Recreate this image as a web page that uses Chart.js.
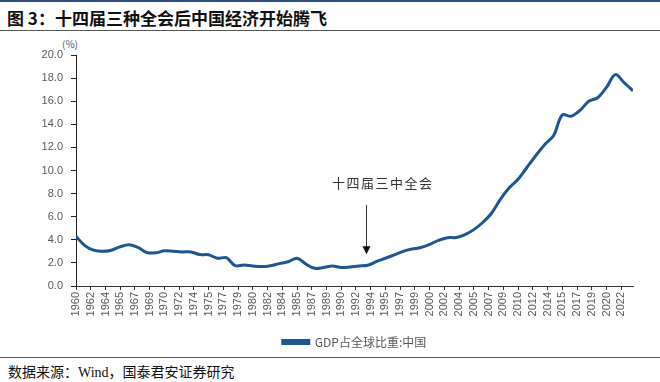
<!DOCTYPE html>
<html>
<head>
<meta charset="utf-8">
<script src="https://cdn.jsdelivr.net/npm/chart.js@4"></script>
<style>
    html, body { margin: 0; padding: 0; background: #fff; }
    body { width: 660px; height: 382px; position: relative; overflow: hidden; font-family: "Noto Sans CJK SC", "Liberation Sans", sans-serif; }
    .top-rule { position: absolute; left: 0; top: 0; width: 660px; height: 2px; background: #2f4f7f; }
    .title { position: absolute; left: 7px; top: 5px; font-size: 17px; font-weight: bold; color: #111; }
    .title-rule { position: absolute; left: 0; top: 30px; width: 660px; height: 1px; background: #555; }
    .unit { position: absolute; left: 62px; top: 36px; font-size: 10px; color: #595959; }
    .chart-box { position: absolute; left: 0; top: 36px; width: 660px; height: 322px; }
    .source-rule { position: absolute; left: 0; top: 357px; width: 660px; height: 1px; background: #555; }
    .source { position: absolute; left: 8px; top: 361px; font-size: 14px; color: #111; }
    .source .latin { font-family: "Liberation Serif", serif; }
</style>
</head>
<body>
<div class="top-rule"></div>
<div class="title">图 3：十四届三种全会后中国经济开始腾飞</div>
<div class="title-rule"></div>
<div class="unit">(%)</div>
<div class="chart-box"><canvas id="gdp-share-chart" width="660" height="322"></canvas></div>
<div class="source-rule"></div>
<div class="source">数据来源：<span class="latin">Wind</span>，国泰君安证券研究</div>

<script>
/* ============================================================
   China share of world GDP, 1960-2023
   ============================================================ */

const years = [
    1960, 1961, 1962, 1963, 1964, 1965, 1966, 1967, 1968, 1969,
    1970, 1971, 1972, 1973, 1974, 1975, 1976, 1977, 1978, 1979,
    1980, 1981, 1982, 1983, 1984, 1985, 1986, 1987, 1988, 1989,
    1990, 1991, 1992, 1993, 1994, 1995, 1996, 1997, 1998, 1999,
    2000, 2001, 2002, 2003, 2004, 2005, 2006, 2007, 2008, 2009,
    2010, 2011, 2012, 2013, 2014, 2015, 2016, 2017, 2018, 2019,
    2020, 2021, 2022, 2023
];

const gdpShare = [
    4.30, 3.50, 3.10, 3.00, 3.10, 3.40, 3.57, 3.35, 2.90, 2.87,
    3.05, 3.00, 2.95, 2.95, 2.72, 2.70, 2.40, 2.45, 1.76, 1.82,
    1.73, 1.68, 1.76, 1.94, 2.10, 2.40, 1.90, 1.53, 1.60, 1.73,
    1.60, 1.64, 1.73, 1.79, 2.13, 2.40, 2.70, 3.00, 3.20, 3.33,
    3.60, 3.95, 4.18, 4.20, 4.45, 4.88, 5.50, 6.30, 7.50, 8.50,
    9.24, 10.26, 11.28, 12.24, 13.00, 14.80, 14.70, 15.20, 16.00, 16.30,
    17.20, 18.30, 17.60, 16.90
];

// x-axis labels as printed (one every 20 months)
const tickLabels = [
    '1960', '1962', '1964', '1965', '1967', '1969', '1970', '1972', '1974', '1975',
    '1977', '1979', '1980', '1982', '1984', '1985', '1987', '1989', '1990', '1992',
    '1994', '1995', '1997', '1999', '2000', '2002', '2004', '2005', '2007', '2009',
    '2010', '2012', '2014', '2015', '2017', '2019', '2020', '2022'
];

const seriesName = 'GDP占全球比重:中国';

// annotation for the 1993 plenum
const markText = '十四届三中全会';
const markYear = 1992.8;
const markTextYear = 1994.7;
const markTextValue = 8.9;
const arrowFrom = 7.0;
const arrowTo = 2.75;

const LINE_COLOR = '#1f5591';
const TICK_COLOR = '#595959';

const markPlugin = {
    id: 'plenumMark',
    afterDatasetsDraw(chart) {
        const { ctx, scales: { x, y } } = chart;
        const ax = Math.round(x.getPixelForValue(markYear)) + 0.5;
        const y0 = y.getPixelForValue(arrowFrom);
        const y1 = y.getPixelForValue(arrowTo);

        ctx.save();
        ctx.strokeStyle = '#333';
        ctx.fillStyle = '#111';
        ctx.lineWidth = 1;
        ctx.beginPath();
        ctx.moveTo(ax, y0);
        ctx.lineTo(ax, y1 - 6);
        ctx.stroke();
        ctx.beginPath();
        ctx.moveTo(ax - 4, y1 - 8);
        ctx.lineTo(ax + 4, y1 - 8);
        ctx.lineTo(ax, y1);
        ctx.closePath();
        ctx.fill();

        ctx.font = '13px "Noto Sans CJK SC"';
        ctx.letterSpacing = '1.5px';
        ctx.fillStyle = '#333';
        ctx.textAlign = 'center';
        ctx.textBaseline = 'middle';
        ctx.fillText(markText, x.getPixelForValue(markTextYear), y.getPixelForValue(markTextValue));
        ctx.restore();
    }
};

new Chart(document.getElementById('gdp-share-chart'), {
    type: 'line',
    data: {
        datasets: [{
            label: seriesName,
            data: years.map((yr, i) => ({ x: yr, y: gdpShare[i] })),
            borderColor: LINE_COLOR,
            backgroundColor: LINE_COLOR,
            borderWidth: 3,
            pointRadius: 0,
            tension: 0.35,
        }]
    },
    options: {
        responsive: false,
        animation: false,
        layout: {
            padding: { top: 19, right: 27, bottom: 0, left: 0 }
        },
        scales: {
            x: {
                type: 'linear',
                min: 1960,
                max: 2023,
                afterBuildTicks(scale) {
                    scale.ticks = tickLabels.map((_, i) => ({ value: 1960 + i * 5 / 3 }));
                },
                afterFit(scale) {
                    scale.height = 40;
                },
                border: { color: '#333', width: 1 },
                grid: { drawOnChartArea: false, tickLength: 4, color: '#333' },
                ticks: {
                    autoSkip: false,
                    minRotation: 90,
                    maxRotation: 90,
                    padding: 2,
                    color: TICK_COLOR,
                    font: { family: 'Liberation Sans', size: 11 },
                    callback: (value, index) => tickLabels[index]
                }
            },
            y: {
                min: 0,
                max: 20,
                afterFit(scale) {
                    scale.width = 76;
                },
                border: { color: '#222', width: 1 },
                grid: { drawOnChartArea: false, tickLength: 5, color: '#222' },
                ticks: {
                    stepSize: 2,
                    padding: 8,
                    color: TICK_COLOR,
                    font: { family: 'Liberation Sans', size: 11 },
                    callback: v => v.toFixed(1)
                }
            }
        },
        plugins: {
            legend: {
                position: 'bottom',
                fullSize: false,
                labels: {
                    boxWidth: 26,
                    boxHeight: 3,
                    padding: 10,
                    color: TICK_COLOR,
                    font: { family: 'Noto Sans CJK SC', size: 12 }
                }
            },
            tooltip: { enabled: false }
        }
    },
    plugins: [markPlugin]
});
</script>
</body>
</html>
